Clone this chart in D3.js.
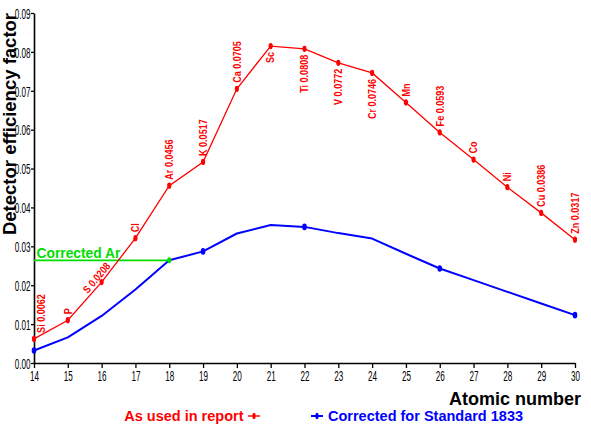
<!DOCTYPE html>
<html>
<head>
<meta charset="utf-8">
<script src="https://cdn.jsdelivr.net/npm/d3@7"></script>
<style>
  body { margin: 0; background: #fff; }
  svg { display: block; font-family: "Liberation Sans", Arial, sans-serif; }
</style>
</head>
<body>
<svg id="chart" width="591" height="428"></svg>
<script>
// atomic numbers on the x axis
const atomic = [14, 15, 16, 17, 18, 19, 20, 21, 22, 23, 24, 25, 26, 27, 28, 29, 30];
// red series: factor as used in report
const reportValues = [0.0062, 0.0110, 0.0208, 0.0321, 0.0456, 0.0517, 0.0705, 0.0815, 0.0808,
  0.0772, 0.0746, 0.0670, 0.0593, 0.0523, 0.0452, 0.0386, 0.0317];
const reportLabels = ['Si 0.0062', 'P', 'S 0.0208', 'Cl', 'Ar 0.0456', 'K 0.0517', 'Ca 0.0705', 'Sc',
  'Ti 0.0808', 'V 0.0772', 'Cr 0.0746', 'Mn', 'Fe 0.0593', 'Co', 'Ni', 'Cu 0.0386', 'Zn 0.0317'];
// blue series: corrected for standard 1833
const correctedValues = [0.0032, 0.0066, 0.0121, 0.0189, 0.0264, 0.0287, 0.0333, 0.0355, 0.0350,
  0.0334, 0.0320, 0.0281, 0.0243, 0.0213, 0.0183, 0.0153, 0.0123];
const correctedMarked = [14, 19, 22, 26, 30];
const yTicks = [0, 0.01, 0.02, 0.03, 0.04, 0.05, 0.06, 0.07, 0.08, 0.09];
const legendNames = ['As used in report', 'Corrected for Standard 1833'];

const RED = '#ff0000', BLUE = '#0000ff', GREEN = '#00dd00';

const svg = d3.select('#chart');

const x = d3.scaleLinear().domain([14, 30]).range([34, 575]);
const y = d3.scaleLinear().domain([0, 0.09]).range([363, 13]);

// squeeze text horizontally like the narrow font in the original
function condense(sel, k) {
  sel.each(function () {
    const len = this.getComputedTextLength();
    d3.select(this).attr('textLength', len * k).attr('lengthAdjust', 'spacingAndGlyphs');
  });
}

// axes
const yAxis = svg.append('g')
  .attr('transform', `translate(${x(14)},0)`)
  .call(d3.axisLeft(y).tickValues(yTicks).tickFormat(d3.format('.2f')).tickSize(3).tickSizeOuter(0));
const xAxis = svg.append('g')
  .attr('transform', `translate(0,${y(0)})`)
  .call(d3.axisBottom(x).tickValues(atomic).tickFormat(d3.format('d')).tickSize(5).tickSizeOuter(0));

[yAxis, xAxis].forEach(g => {
  g.select('.domain').attr('stroke', '#000').attr('stroke-width', 1.6);
  g.selectAll('.tick line').attr('stroke', '#000').attr('stroke-width', 1.3);
  g.selectAll('.tick text')
    .attr('fill', '#000')
    .style('font-family', '"Liberation Sans", Arial, sans-serif')
    .style('font-size', '14.5px');
});
yAxis.selectAll('.tick text').attr('x', -3.5).attr('dy', '0.36em');
xAxis.selectAll('.tick text').attr('y', 8);
condense(yAxis.selectAll('.tick text'), 0.56);
condense(xAxis.selectAll('.tick text'), 0.56);

// axis titles
svg.append('text')
  .attr('transform', `translate(15.5,${(12 + 236) / 2}) rotate(-90)`)
  .attr('text-anchor', 'middle')
  .style('font-size', '18.5px').style('font-weight', 'bold')
  .text('Detector efficiency factor');

svg.append('text')
  .attr('x', 581).attr('y', 405)
  .attr('text-anchor', 'end')
  .style('font-size', '18px').style('font-weight', 'bold')
  .text('Atomic number');

const redData = atomic.map((z, i) => ({ z, v: reportValues[i], label: reportLabels[i] }));
const blueData = atomic.map((z, i) => ({ z, v: correctedValues[i] }));

const line = d3.line().x(d => x(d.z)).y(d => y(d.v));

// corrected Ar reference line
const arPoint = blueData[atomic.indexOf(18)];
svg.append('path')
  .datum([{ z: 14, v: arPoint.v }, arPoint])
  .attr('fill', 'none').attr('stroke', GREEN).attr('stroke-width', 1.6)
  .attr('d', line);
svg.append('text')
  .attr('x', x(14) + 2.5).attr('y', y(arPoint.v) - 2)
  .attr('fill', GREEN)
  .style('font-size', '13.8px').style('font-weight', 'bold')
  .text('Corrected Ar');

// blue line
svg.append('path')
  .datum(blueData)
  .attr('fill', 'none').attr('stroke', BLUE).attr('stroke-width', 2)
  .attr('stroke-linejoin', 'round')
  .attr('d', line);
svg.selectAll('.bmark')
  .data(blueData.filter(d => correctedMarked.includes(d.z)))
  .join('ellipse')
  .attr('cx', d => x(d.z)).attr('cy', d => y(d.v))
  .attr('rx', 2.3).attr('ry', 3.3)
  .attr('fill', BLUE);
svg.append('ellipse')
  .attr('cx', x(arPoint.z)).attr('cy', y(arPoint.v))
  .attr('rx', 2).attr('ry', 3)
  .attr('fill', GREEN);

// red line
svg.append('path')
  .datum(redData)
  .attr('fill', 'none').attr('stroke', RED).attr('stroke-width', 1.3)
  .attr('d', line);
svg.selectAll('.rmark')
  .data(redData)
  .join('ellipse')
  .attr('cx', d => x(d.z)).attr('cy', d => y(d.v))
  .attr('rx', 2.1).attr('ry', 3.1)
  .attr('fill', RED);

// red point labels: above the point, below near the peak, S along the line
const below = ['Sc', 'Ti', 'V', 'Cr'];
const labels = svg.selectAll('.rlab')
  .data(redData)
  .join('text')
  .attr('fill', RED)
  .style('font-size', '10.5px').style('font-weight', 'bold')
  .text(d => d.label)
  .each(function (d) {
    const sym = d.label.split(' ')[0];
    const px = x(d.z), py = y(d.v);
    const t = d3.select(this);
    if (sym === 'S') {
      t.attr('text-anchor', 'middle')
        .attr('transform', `translate(${px},${py}) rotate(-50) translate(0,-3)`);
    } else if (below.includes(sym)) {
      t.attr('text-anchor', 'end')
        .attr('transform', `translate(${px + 3.8},${py + 6}) rotate(-90)`);
    } else {
      const dx = sym === 'Si' ? 10.5 : 3.8;
      t.attr('text-anchor', 'start')
        .attr('transform', `translate(${px + dx},${py - 6}) rotate(-90)`);
    }
  });
condense(labels, 0.86);

// legend
const lg = svg.append('g').style('font-size', '14.5px').style('font-weight', 'bold');
lg.append('text')
  .attr('x', 243.5).attr('y', 421)
  .attr('text-anchor', 'end')
  .attr('fill', RED)
  .text(legendNames[0]);
lg.append('line')
  .attr('x1', 248).attr('x2', 260).attr('y1', 416).attr('y2', 416)
  .attr('stroke', RED).attr('stroke-width', 1.4);
lg.append('ellipse').attr('cx', 254).attr('cy', 416).attr('rx', 1.6).attr('ry', 3.2).attr('fill', RED);

lg.append('line')
  .attr('x1', 311).attr('x2', 323).attr('y1', 416).attr('y2', 416)
  .attr('stroke', BLUE).attr('stroke-width', 2);
lg.append('ellipse').attr('cx', 317).attr('cy', 416).attr('rx', 1.6).attr('ry', 3.2).attr('fill', BLUE);
lg.append('text')
  .attr('x', 328).attr('y', 421)
  .attr('fill', BLUE)
  .text(legendNames[1]);
</script>
</body>
</html>
